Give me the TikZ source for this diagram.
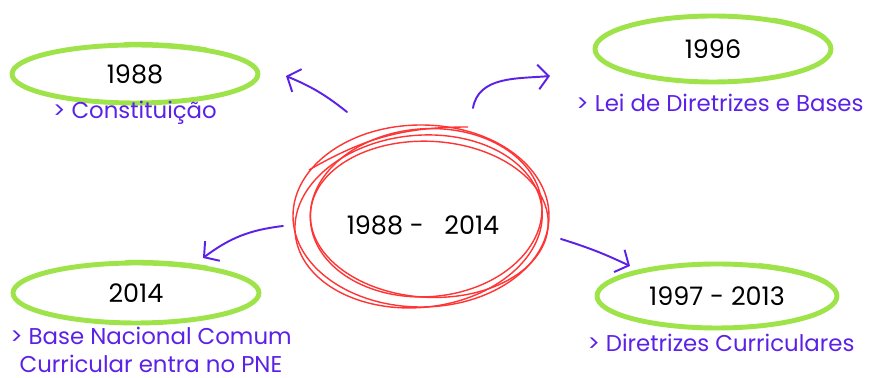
\documentclass[tikz,border=0pt]{standalone}
\usepackage{fontspec}
\setmainfont{Poppins}
\usetikzlibrary{positioning,calc,arrows.meta,shapes.geometric}
\definecolor{Lime}{HTML}{9EE34A}
\definecolor{Violet}{HTML}{5B21E6}
\definecolor{Scarlet}{HTML}{FF3434}

\begin{document}
\begin{tikzpicture}[x=0.02cm,y=0.02cm,
  year/.style={ellipse,draw=Lime,line width=2.8pt,inner sep=0pt,font=\fontsize{14.5}{16}\selectfont},
  tail/.style={Lime,line width=1.2pt},
  note/.style={text=Violet,align=center,font=\fontsize{13}{15.5}\selectfont},
  arr/.style={Violet,line width=1.1pt,line cap=round,-{Straight Barb[length=6pt,width=14pt]}},
  scrib/.style={Scarlet,line width=0.8pt}]
\useasboundingbox (0,0) rectangle (880,378);
% centre
\node[ellipse,minimum width=5.12cm,minimum height=3.64cm,font=\fontsize{14.5}{16}\selectfont] (ctr) at (423,153) {1988 -\ \ \ 2014};
\draw[scrib] ($(ctr.center)+(-2,9)$) ellipse[x radius=128,y radius=91];
\draw[scrib,rotate around={4:(ctr.center)}] ($(ctr.center)+(4,12)$) ellipse[x radius=116,y radius=84];
\draw[scrib,rotate around={-3:(ctr.center)}] ($(ctr.center)+(6,6)$) ellipse[x radius=119,y radius=78];
\draw[scrib,rotate around={6:(ctr.center)}] ($(ctr.center)+(-4,4)$) ellipse[x radius=124,y radius=86];
\draw[scrib] ($(ctr.center)+(-114,55)$) to[out=30,in=180] ($(ctr.center)+(45,98)$);
% years
\node[year,minimum width=4.92cm,minimum height=1.16cm] (e1988) at (135,304) {1988};
\node[year,minimum width=4.72cm,minimum height=1.32cm] (e1996) at (713,329) {1996};
\node[year,minimum width=4.92cm,minimum height=1.2cm] (e2014) at (136,85) {2014};
\node[year,minimum width=4.8cm,minimum height=1.28cm] (e1997) at (717,82) {1997 - 2013};
\draw[tail] ($(e1988.center)+(95:125 and 31)$) arc[start angle=95,end angle=55,x radius=125,y radius=31];
\draw[tail] ($(e1996.center)+(60:120 and 35)$) arc[start angle=60,end angle=20,x radius=120,y radius=35];
\draw[tail] ($(e2014.center)+(95:125 and 32)$) arc[start angle=95,end angle=55,x radius=125,y radius=32];
\draw[tail] ($(e1997.center)+(70:122 and 34)$) arc[start angle=70,end angle=25,x radius=122,y radius=34];
% notes
\node[note] (n1988) at (135,265) {> Constituição};
\node[note] (n1996) at (720,275) {> Lei de Diretrizes e Bases};
\node[note] (n2014) at (151,28) {> Base Nacional Comum\\Curricular entra no PNE};
\node[note] (n1997) at (721,35) {> Diretrizes Curriculares};
% arrows
\coordinate (a1s) at (347,266); \coordinate (a1e) at (286,302);
\coordinate (a2s) at (473,270); \coordinate (a2e) at (550,302);
\coordinate (a3s) at (283,152); \coordinate (a3e) at (203,120);
\coordinate (a4s) at (561,139); \coordinate (a4e) at (630,112);
\draw[arr] (a1s) to[bend right=8] (a1e);
\draw[arr] (a2s) to[out=80,in=185] (a2e);
\draw[arr] (a3s) to[bend right=15] (a3e);
\draw[arr] (a4s) to[bend left=4] (a4e);
\end{tikzpicture}
\end{document}
